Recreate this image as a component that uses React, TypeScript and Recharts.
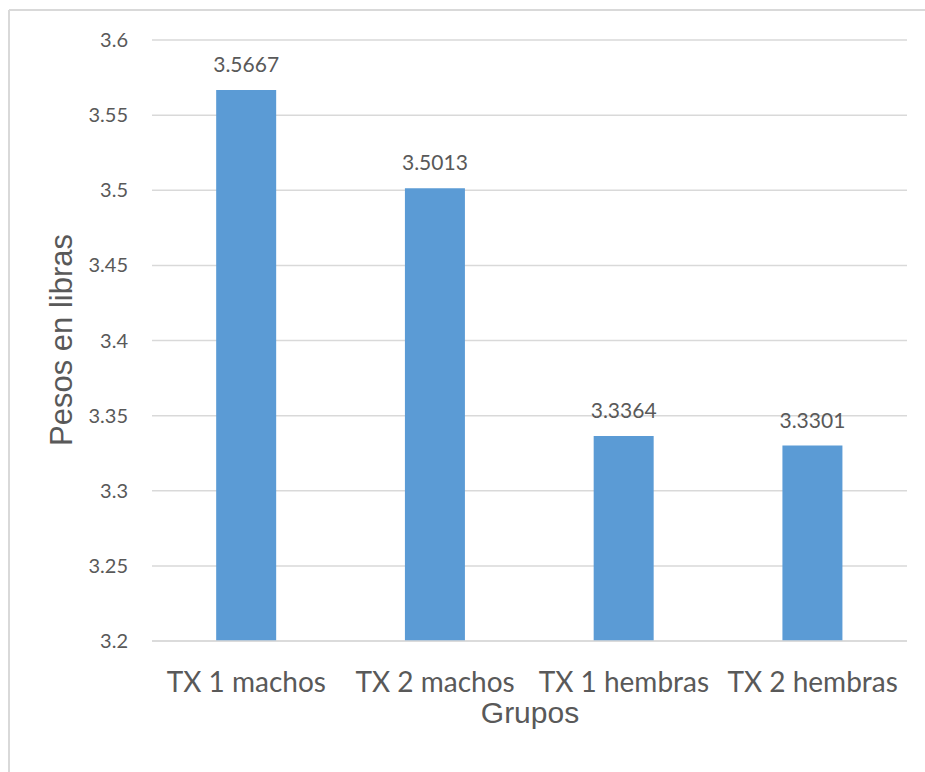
import React from 'react';
import { BarChart, Bar, XAxis, YAxis, CartesianGrid, LabelList } from 'recharts';

const groups = ['TX 1 machos', 'TX 2 machos', 'TX 1 hembras', 'TX 2 hembras'];
const pesos = [3.5667, 3.5013, 3.3364, 3.3301];
const yTicks = [3.2, 3.25, 3.3, 3.35, 3.4, 3.45, 3.5, 3.55, 3.6];

const data = groups.map((g, i) => ({ grupo: g, peso: pesos[i] }));

const TEXT = '#595959';
const GRID = '#d9d9d9';
const BLUE = '#5b9bd5';

const fmt = (v: number) => String(Number(v.toFixed(2)));

const App: React.FC = () => {
  return (
    <div style={{ position: 'relative', width: 925, height: 772, overflow: 'hidden', background: '#fff' }}>
      <style>{'body { margin: 0; }'}</style>
      {/* chart frame: only the left and top edges are in view */}
      <svg width={925} height={772} style={{ position: 'absolute', left: 0, top: 0 }}>
        <line x1={9} y1={10} x2={925} y2={10} stroke={GRID} strokeWidth={2} />
        <line x1={9} y1={10} x2={9} y2={772} stroke={GRID} strokeWidth={2} />
      </svg>
      <div style={{ position: 'absolute', left: 0, top: 0 }}>
        <BarChart
          width={925}
          height={772}
          data={data}
          margin={{ top: 40, right: 18, bottom: 91, left: 92 }}
          barCategoryGap="34%"
        >
          <CartesianGrid vertical={false} stroke={GRID} strokeWidth={1.5} />
          <XAxis
            dataKey="grupo"
            height={40}
            axisLine={{ stroke: GRID, strokeWidth: 1.5 }}
            tickLine={false}
            tickSize={26}
            tickMargin={5}
            interval={0}
            tick={{ fill: TEXT, fontSize: 28, fontFamily: 'Lato' }}
          />
          <YAxis
            width={60}
            domain={[3.2, 3.6]}
            ticks={yTicks}
            tickFormatter={fmt}
            axisLine={false}
            tickLine={false}
            tickSize={20}
            tickMargin={4}
            allowDataOverflow
            tick={{ fill: TEXT, fontSize: 20, fontFamily: 'Lato' }}
          />
          <Bar dataKey="peso" fill={BLUE} isAnimationActive={false}>
            <LabelList
              dataKey="peso"
              position="top"
              offset={18}
              fill={TEXT}
              fontSize={21}
              fontFamily="Lato"
            />
          </Bar>
          <text
            x={61}
            y={340}
            transform="rotate(-90 61 340)"
            textAnchor="middle"
            dominantBaseline="central"
            fill={TEXT}
            fontSize={31}
            fontFamily="Liberation Sans"
          >
            Pesos en libras
          </text>
          <text
            x={530}
            y={723}
            textAnchor="middle"
            fill={TEXT}
            fontSize={30}
            fontFamily="Liberation Sans"
          >
            Grupos
          </text>
        </BarChart>
      </div>
    </div>
  );
};

export default App;
